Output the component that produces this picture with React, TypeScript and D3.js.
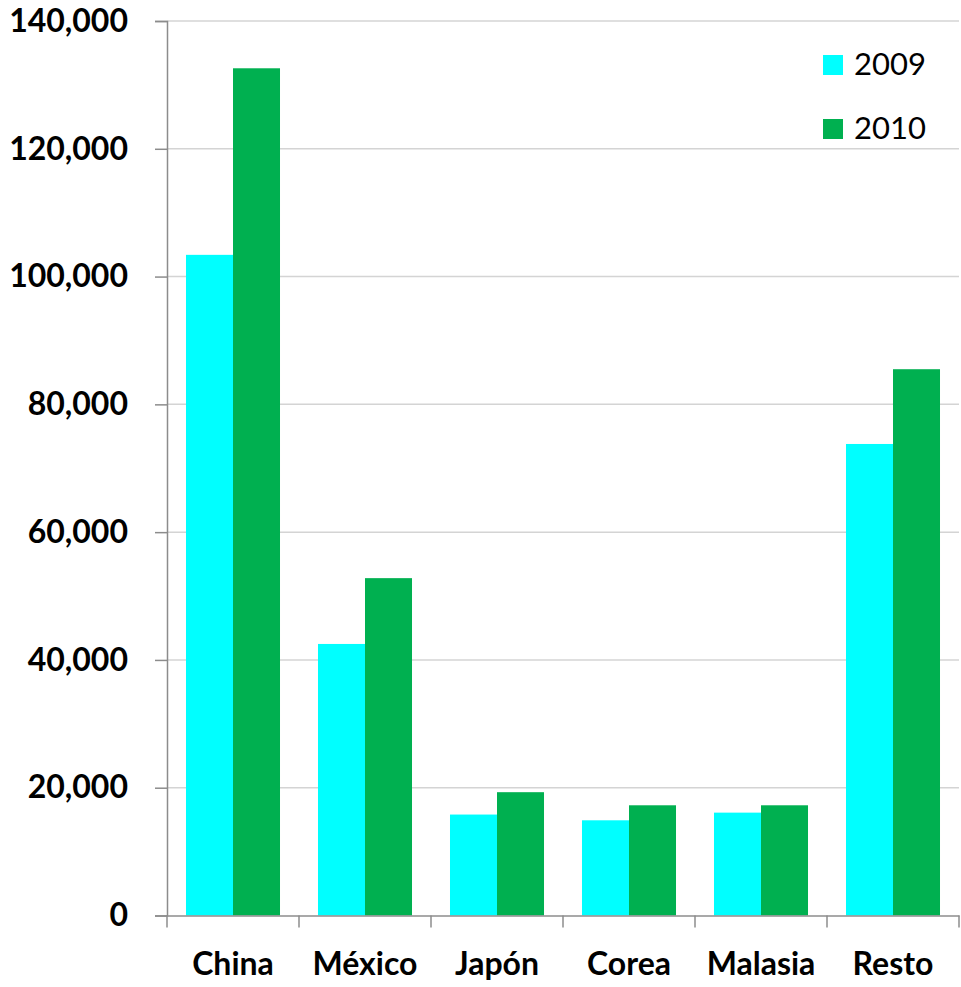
import React, { useEffect, useRef } from "react";
import * as d3 from "d3";

const categories = ["China", "México", "Japón", "Corea", "Malasia", "Resto"];
const seriesNames = ["2009", "2010"];
const values2009 = [103400, 42500, 15800, 14900, 16100, 73800];
const values2010 = [132600, 52800, 19300, 17250, 17250, 85500];
const yTicks = [0, 20000, 40000, 60000, 80000, 100000, 120000, 140000];
const colors = ["#00FFFF", "#00B050"];

const App: React.FC = () => {
  const svgRef = useRef<SVGSVGElement | null>(null);

  useEffect(() => {
    const width = 961;
    const height = 987;
    const margin = { top: 21, right: 2, bottom: 71.5, left: 167 };

    const svg = d3.select(svgRef.current);
    svg.selectAll("*").remove();

    const data = categories.map((c, i) => ({
      name: c,
      vals: [values2009[i], values2010[i]],
    }));

    // Scales
    const x0 = d3
      .scaleBand()
      .domain(categories)
      .range([margin.left, width - margin.right])
      .paddingInner(0)
      .paddingOuter(0);

    const x1 = d3
      .scaleBand()
      .domain(seriesNames)
      .range([0, x0.bandwidth()])
      .paddingInner(0)
      .paddingOuter(0.404);

    const yScale = d3
      .scaleLinear()
      .domain([0, 140000])
      .range([height - margin.bottom, margin.top]);

    // Gridlines
    svg
      .append("g")
      .selectAll("line")
      .data(yTicks.slice(1))
      .enter()
      .append("line")
      .attr("x1", margin.left)
      .attr("x2", width - margin.right)
      .attr("y1", (d) => yScale(d))
      .attr("y2", (d) => yScale(d))
      .attr("stroke", "#d4d4d4")
      .attr("stroke-width", 1.5);

    // Bars
    const groups = svg
      .append("g")
      .selectAll("g")
      .data(data)
      .enter()
      .append("g")
      .attr("transform", (d) => `translate(${x0(d.name)},0)`);

    groups
      .selectAll("rect")
      .data((d) => d.vals.map((v, i) => ({ key: seriesNames[i], v, i })))
      .enter()
      .append("rect")
      .attr("x", (d) => x1(d.key)!)
      .attr("y", (d) => yScale(d.v))
      .attr("width", x1.bandwidth())
      .attr("height", (d) => yScale(0) - yScale(d.v))
      .attr("fill", (d) => colors[d.i]);

    // Y axis
    const yAxis = svg
      .append("g")
      .attr("transform", `translate(${margin.left},0)`)
      .call(d3.axisLeft(yScale).tickValues(yTicks).tickSize(12).tickPadding(27).tickFormat(d3.format(",")));
    yAxis.select(".domain").attr("stroke", "#8c8c8c").attr("stroke-width", 1.5);
    yAxis.selectAll(".tick line").attr("stroke", "#8c8c8c").attr("stroke-width", 1.5);
    yAxis
      .selectAll(".tick text")
      .attr("fill", "#000")
      .style("font-family", "Lato, 'Open Sans', sans-serif")
      .style("font-weight", "bold")
      .style("font-size", "32px");

    // X axis
    const xAxis = svg
      .append("g")
      .attr("transform", `translate(0,${yScale(0)})`)
      .call(d3.axisBottom(x0).tickSize(0));
    xAxis.select(".domain").attr("stroke", "#8c8c8c").attr("stroke-width", 1.5);
    xAxis
      .selectAll(".tick text")
      .attr("fill", "#000")
      .attr("y", 59)
      .attr("dy", 0)
      .style("font-family", "Lato, 'Open Sans', sans-serif")
      .style("font-weight", "bold")
      .style("font-size", "32px");

    // category separators on x axis
    const sepPositions = categories.map((c) => x0(c)!).concat([x0(categories[categories.length - 1])! + x0.bandwidth()]);
    xAxis
      .selectAll(".sep")
      .data(sepPositions)
      .enter()
      .append("line")
      .attr("class", "sep")
      .attr("x1", (d) => d)
      .attr("x2", (d) => d)
      .attr("y1", 0)
      .attr("y2", 12)
      .attr("stroke", "#8c8c8c")
      .attr("stroke-width", 1.5);

    // Legend
    const legend = svg
      .append("g")
      .selectAll("g")
      .data(seriesNames)
      .enter()
      .append("g")
      .attr("transform", (_, i) => `translate(823,${55 + i * 64})`);
    legend
      .append("rect")
      .attr("width", 20)
      .attr("height", 20)
      .attr("fill", (_, i) => colors[i]);
    legend
      .append("text")
      .attr("x", 31)
      .attr("y", 20)
      .style("font-family", "Lato, 'Open Sans', sans-serif")
      .style("font-size", "31px")
      .text((d) => d);
  }, []);

  return (
    <div>
      <svg
        ref={svgRef}
        width={961}
        height={987}
        style={{ position: "absolute", left: 0, top: 0, background: "#fff" }}
      ></svg>
    </div>
  );
};

export default App;
